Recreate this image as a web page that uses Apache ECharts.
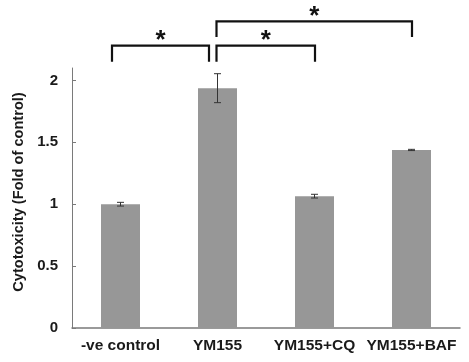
<!DOCTYPE html>
<html>
<head>
<meta charset="utf-8">
<script src="https://cdn.jsdelivr.net/npm/echarts@6/dist/echarts.min.js"></script>
<style>
  html, body { margin: 0; padding: 0; background: #fff; }
  #chart { width: 469px; height: 362px; }
</style>
</head>
<body>
<div id="chart"></div>
<script>
// groups and values (fold of control)
var categories = ['-ve control', 'YM155', 'YM155+CQ', 'YM155+BAF'];
var values = [1.0, 1.937, 1.065, 1.438];
var errors = [0.015, 0.117, 0.015, 0.005];
var yTicks = [0, 0.5, 1, 1.5, 2];

// significance brackets: [fromIdx, toIdx, legBottom, top] in data units
var brackets = [
    [0, 1, 2.15, 2.28],
    [1, 2, 2.15, 2.28],
    [1, 3, 2.35, 2.476]
];
var bracketLabels = ['*', '*', '*'];

var chart = echarts.init(document.getElementById('chart'));

var font = 'Liberation Sans, Arial, sans-serif';

// errorbar data: [idx, low, high]
var errData = values.map(function (v, i) {
    return [i, v - errors[i], v + errors[i]];
});

var option = {
    animation: false,
    grid: { left: 72, right: 9, top: 68, bottom: 34 },
    xAxis: {
        type: 'category',
        data: categories,
        axisLine: { lineStyle: { color: '#7a7a7a', width: 1.5 } },
        axisTick: { show: false },
        axisLabel: {
            interval: 0,
            margin: 10,
            color: '#1a1a1a',
            fontFamily: font,
            fontWeight: 'bold',
            fontSize: 15.5
        }
    },
    yAxis: {
        type: 'value',
        min: 0,
        max: 2.1,
        name: 'Cytotoxicity (Fold of control)',
        nameLocation: 'middle',
        nameGap: 32,
        nameTextStyle: {
            color: '#1a1a1a',
            fontFamily: font,
            fontWeight: 'bold',
            fontSize: 14.6,
            padding: [0, 0, 0, 12]
        },
        splitLine: { show: false },
        axisLine: { show: true, lineStyle: { color: '#7a7a7a', width: 1 } },
        axisTick: {
            show: true,
            inside: true,
            length: 4,
            customValues: yTicks,
            lineStyle: { color: '#7a7a7a' }
        },
        axisLabel: {
            margin: 14,
            customValues: yTicks,
            color: '#1a1a1a',
            fontFamily: font,
            fontWeight: 'bold',
            fontSize: 15
        }
    },
    series: [
        {
            type: 'bar',
            data: values,
            barWidth: 39,
            itemStyle: { color: '#979797' }
        },
        {
            type: 'custom',
            data: errData,
            z: 5,
            renderItem: function (params, api) {
                var x = api.value(0);
                var lo = api.coord([x, api.value(1)]);
                var hi = api.coord([x, api.value(2)]);
                var hw = 3.5;
                var st = { stroke: '#333', lineWidth: 1 };
                return {
                    type: 'group',
                    children: [
                        { type: 'line', shape: { x1: hi[0], y1: hi[1], x2: lo[0], y2: lo[1] }, style: st },
                        { type: 'line', shape: { x1: hi[0] - hw, y1: hi[1], x2: hi[0] + hw, y2: hi[1] }, style: st },
                        { type: 'line', shape: { x1: lo[0] - hw, y1: lo[1], x2: lo[0] + hw, y2: lo[1] }, style: st }
                    ]
                };
            }
        },
        {
            type: 'custom',
            data: brackets,
            clip: false,
            z: 6,
            renderItem: function (params, api) {
                var i = params.dataIndex;
                var a = api.value(0), b = api.value(1);
                var pa = api.coord([a, api.value(3)]);
                var pb = api.coord([b, api.value(3)]);
                var bottom = api.coord([a, api.value(2)])[1];
                // first bracket sits left of its bars, the others start at the bar centre
                var dxa = i === 0 ? -8.5 : -1;
                var dxb = i === 0 ? -8.5 : 0.5;
                var x1 = pa[0] + dxa, x2 = pb[0] + dxb, top = pa[1];
                return {
                    type: 'group',
                    children: [
                        {
                            type: 'polyline',
                            shape: { points: [[x1, bottom], [x1, top], [x2, top], [x2, bottom]] },
                            style: { stroke: '#111', lineWidth: 2.2, fill: null }
                        },
                        {
                            type: 'text',
                            style: {
                                text: bracketLabels[i],
                                x: (x1 + x2) / 2,
                                y: top - 5,
                                align: 'center',
                                verticalAlign: 'middle',
                                fill: '#111',
                                font: 'bold 26px ' + font
                            }
                        }
                    ]
                };
            }
        }
    ]
};

chart.setOption(option);
</script>
</body>
</html>
